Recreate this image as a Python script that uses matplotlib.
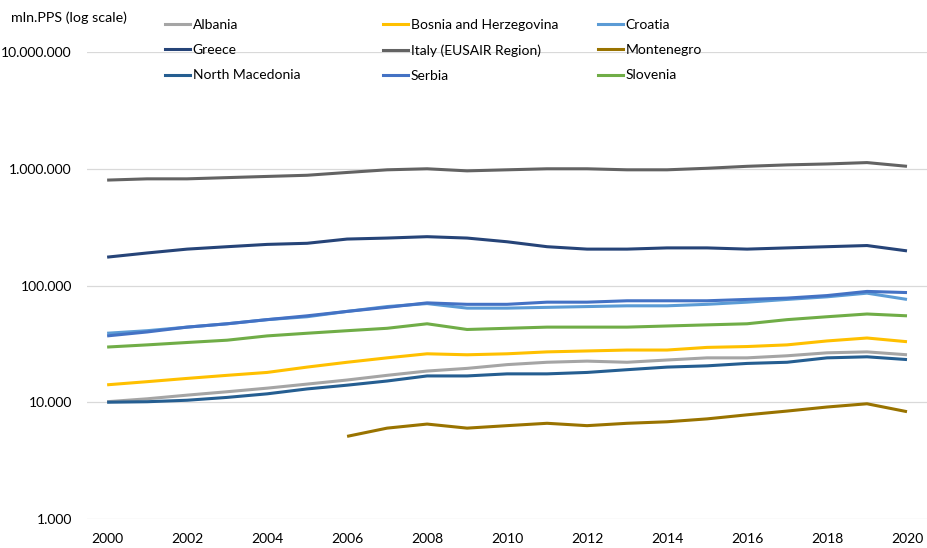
import matplotlib
matplotlib.use("Agg")
import matplotlib.pyplot as plt
from matplotlib.lines import Line2D
from matplotlib.ticker import FuncFormatter, FixedLocator
import numpy as np

plt.rcParams['font.family'] = ['Lato', 'DejaVu Sans']

years = list(range(2000, 2021))

albania = [10100, 10700, 11500, 12300, 13200, 14300, 15500, 17000, 18500, 19500, 21000,
           22000, 22500, 22000, 23000, 24000, 24000, 25000, 26500, 27000, 25500]
bosnia = [14100, 15000, 16000, 17000, 18000, 20000, 22000, 24000, 26000, 25500, 26000,
          27000, 27500, 28000, 28000, 29500, 30000, 31000, 33500, 35500, 33000]
croatia = [39000, 41000, 44000, 47000, 51000, 54000, 60000, 66000, 70000, 64000, 64000,
           65000, 66000, 67000, 67000, 69000, 72000, 76000, 80000, 86000, 76000]
greece = [175000, 190000, 205000, 215000, 225000, 230000, 250000, 255000, 262000, 255000, 237000,
          215000, 205000, 205000, 210000, 210000, 205000, 210000, 215000, 220000, 198000]
italy = [800000, 820000, 820000, 840000, 860000, 880000, 930000, 980000, 1000000, 960000, 980000,
         1000000, 1000000, 980000, 980000, 1010000, 1050000, 1080000, 1100000, 1130000, 1050000]
montenegro = [np.nan] * 6 + [5100, 6000, 6500, 6000, 6300, 6600, 6300, 6600, 6800, 7200,
                             7800, 8400, 9100, 9700, 8300]
north_macedonia = [10000, 10100, 10400, 11000, 11800, 13000, 14000, 15200, 16800, 16800, 17500,
                   17500, 18000, 19000, 20000, 20500, 21500, 22000, 24000, 24500, 23200]
serbia = [37000, 40000, 44000, 47000, 51000, 55000, 60000, 65000, 71000, 69000, 69000,
          72000, 72000, 74000, 74000, 74000, 76000, 78000, 82000, 89000, 87000]
slovenia = [29700, 31000, 32500, 34000, 37000, 39000, 41000, 43000, 47000, 42000, 43000,
            44000, 44000, 44000, 45000, 46000, 47000, 51000, 54000, 57000, 55000]

series = [
    ("Albania", albania, "#A5A5A5"),
    ("Bosnia and Herzegovina", bosnia, "#FFC000"),
    ("Croatia", croatia, "#5B9BD5"),
    ("Greece", greece, "#264478"),
    ("Italy (EUSAIR Region)", italy, "#636363"),
    ("Montenegro", montenegro, "#997300"),
    ("North Macedonia", north_macedonia, "#255E91"),
    ("Serbia", serbia, "#4472C4"),
    ("Slovenia", slovenia, "#70AD47"),
]

FS = 10

fig = plt.figure(figsize=(9.27, 5.48), dpi=100)
ax = fig.add_axes([0.094, 0.053, 0.906, 0.852])

handles = {}
for name, vals, color in series:
    ln, = ax.plot(years, vals, color=color, lw=2.2, solid_capstyle='butt', zorder=3)
    handles[name] = ln

ax.set_yscale('log')
ax.set_ylim(1000, 1e7)
ax.set_xlim(1999.5, 2020.5)
ax.yaxis.set_major_locator(FixedLocator([1e3, 1e4, 1e5, 1e6, 1e7]))
ax.yaxis.set_minor_locator(FixedLocator([]))
ax.yaxis.set_major_formatter(FuncFormatter(lambda v, p: f"{int(round(v)):,}".replace(",", ".")))
ax.set_xticks(years[::2])
ax.grid(axis='y', color='#D9D9D9', lw=0.9, zorder=0)
for s in ax.spines.values():
    s.set_visible(False)
ax.tick_params(axis='both', length=0, labelsize=FS, colors='black')
ax.tick_params(axis='y', pad=11)
ax.tick_params(axis='x', pad=10)

fig.text(11 / 927, 1 - 18 / 548, "mln.PPS (log scale)", fontsize=10.3, ha='left', va='center')

# Legend laid out as three evenly spaced columns
columns = [
    ["Albania", "Greece", "North Macedonia"],
    ["Bosnia and Herzegovina", "Italy (EUSAIR Region)", "Serbia"],
    ["Croatia", "Montenegro", "Slovenia"],
]
col_x = [165 / 927, 383 / 927, 598 / 927]
for cx, names in zip(col_x, columns):
    hs = [Line2D([], [], color=handles[n].get_color(), lw=2.2) for n in names]
    fig.legend(hs, names, loc='upper left', bbox_to_anchor=(cx, 1 - 19 / 548),
               frameon=False, fontsize=FS, handlelength=1.8, handletextpad=0.2,
               labelspacing=0.95, borderaxespad=0, borderpad=0)

fig.savefig("out.png", dpi=100)
